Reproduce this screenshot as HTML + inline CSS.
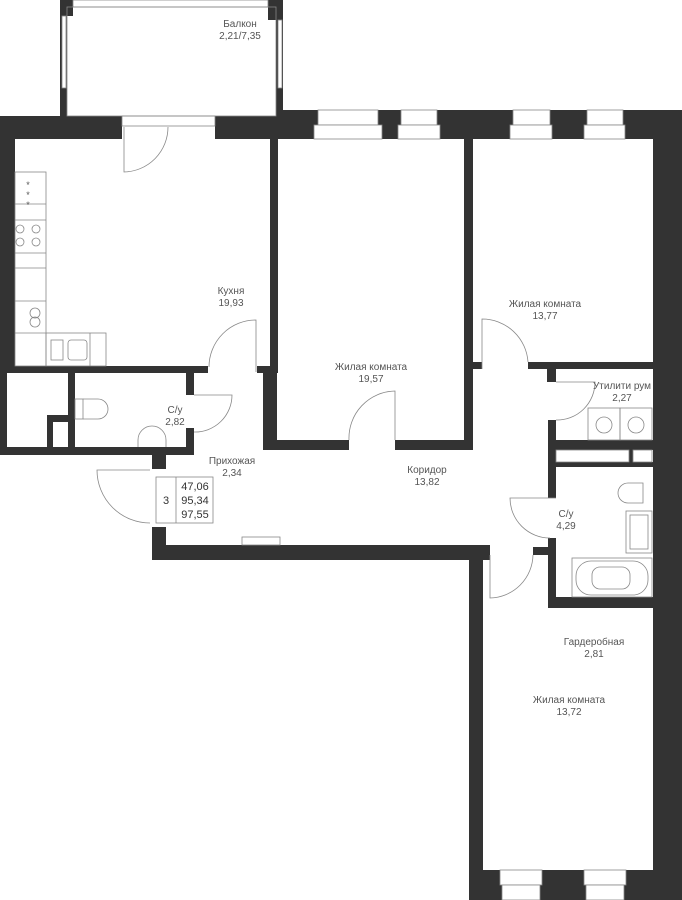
<!DOCTYPE html>
<html><head><meta charset="utf-8"><style>
html,body{margin:0;padding:0;background:#fff}
svg{display:block}
text{font-family:"Liberation Sans",sans-serif;font-size:10px;fill:#555;text-anchor:middle}
</style></head><body>
<svg width="682" height="900" viewBox="0 0 682 900" xmlns="http://www.w3.org/2000/svg">
<g fill="#333">
<rect x="60" y="0" width="7" height="116"/>
<rect x="276" y="0" width="7" height="116"/>
<rect x="60" y="0" width="13" height="16"/>
<rect x="268" y="0" width="15" height="20"/>
<rect x="0" y="116" width="122" height="23"/>
<rect x="215" y="116" width="70" height="23"/>
<rect x="283" y="110" width="399" height="29"/>
<rect x="0" y="116" width="15" height="257"/>
<rect x="653" y="110" width="29" height="790"/>
<rect x="270" y="139" width="8" height="234"/>
<rect x="263" y="366" width="14" height="84"/>
<rect x="257" y="366" width="13" height="7"/>
<rect x="0" y="366" width="208" height="7"/>
<rect x="263" y="440" width="86" height="10"/>
<rect x="395" y="440" width="78" height="10"/>
<rect x="464" y="139" width="9" height="311"/>
<rect x="473" y="362" width="9" height="7"/>
<rect x="528" y="362" width="125" height="7"/>
<rect x="547" y="369" width="9" height="13"/>
<rect x="548" y="420" width="8" height="78"/>
<rect x="548" y="440" width="105" height="10"/>
<rect x="548" y="462" width="105" height="5"/>
<rect x="629" y="450" width="4" height="12"/>
<rect x="548" y="538" width="8" height="70"/>
<rect x="548" y="597" width="105" height="11"/>
<rect x="533" y="547" width="15" height="8"/>
<rect x="152" y="527" width="14" height="33"/>
<rect x="152" y="545" width="338" height="15"/>
<rect x="469" y="545" width="14" height="355"/>
<rect x="469" y="870" width="213" height="30"/>
<rect x="0" y="366" width="7" height="89"/>
<rect x="68" y="373" width="7" height="82"/>
<rect x="47" y="415" width="21" height="7"/>
<rect x="47" y="415" width="6" height="40"/>
<rect x="0" y="447" width="194" height="8"/>
<rect x="186" y="373" width="8" height="22"/>
<rect x="186" y="428" width="8" height="27"/>
<rect x="152" y="455" width="14" height="14"/>
</g>
<g fill="#fff" stroke="#888" stroke-width="0.8">
<rect x="73" y="0" width="195" height="7"/>
<rect x="62" y="16" width="4" height="72"/>
<rect x="278" y="20" width="4" height="68"/>
<rect x="318" y="110" width="60" height="15"/><rect x="314" y="125" width="68" height="14"/>
<rect x="401" y="110" width="36" height="15"/><rect x="398" y="125" width="42" height="14"/>
<rect x="513" y="110" width="37" height="15"/><rect x="510" y="125" width="42" height="14"/>
<rect x="587" y="110" width="36" height="15"/><rect x="584" y="125" width="41" height="14"/>
<rect x="122" y="116" width="93" height="10"/>
<rect x="500" y="870" width="42" height="15"/><rect x="502" y="885" width="38" height="15"/>
<rect x="584" y="870" width="42" height="15"/><rect x="586" y="885" width="38" height="15"/>
<rect x="556" y="450" width="73" height="12"/>
<rect x="633" y="450" width="19" height="12"/>
<rect x="242" y="537" width="38" height="8"/>
</g>
<g stroke="#888" stroke-width="0.8" fill="none">
<rect x="67" y="7" width="209" height="109"/>
<path d="M124 127 V172 A45 45 0 0 0 168 127"/>
<path d="M256 372 V320 A47 47 0 0 0 209 367"/>
<path d="M395 440 V391 A47 47 0 0 0 349 440"/>
<path d="M482 369 V319 A46 46 0 0 1 528 362"/>
<path d="M194 395 H232 A37 37 0 0 1 194 432"/>
<path d="M556 382 H595 A38 38 0 0 1 556 420"/>
<path d="M556 498 H510 A40 40 0 0 0 550 538"/>
<path d="M490 555 V598 A44 44 0 0 0 533 555"/>
<path d="M150 470 H97 A53 53 0 0 0 150 523"/>
<rect x="15" y="172" width="31" height="194"/>
<line x1="15" y1="204" x2="46" y2="204"/><line x1="15" y1="220" x2="46" y2="220"/>
<line x1="15" y1="253" x2="46" y2="253"/><line x1="15" y1="268" x2="46" y2="268"/>
<line x1="15" y1="301" x2="46" y2="301"/><line x1="15" y1="333" x2="46" y2="333"/>
<rect x="46" y="333" width="60" height="33"/><line x1="90" y1="333" x2="90" y2="366"/>
<circle cx="20" cy="229" r="4"/><circle cx="36" cy="229" r="4"/>
<circle cx="20" cy="242" r="4"/><circle cx="36" cy="242" r="4"/>
<circle cx="35" cy="313" r="5"/><circle cx="35" cy="322" r="5"/>
<rect x="51" y="340" width="12" height="20"/><rect x="68" y="340" width="19" height="20" rx="3"/>
<rect x="75" y="399" width="8" height="20"/><path d="M83 399 H98 A10 10 0 0 1 98 419 H83"/>
<path d="M138 447 V440 A14 14 0 0 1 166 440 V447"/>
<rect x="588" y="408" width="32" height="32"/><rect x="620" y="408" width="32" height="32"/>
<circle cx="604" cy="425" r="8"/><circle cx="636" cy="425" r="8"/>
<path d="M643 483 H628 A10 10 0 0 0 628 503 H643 Z"/>
<rect x="626" y="511" width="26" height="42"/><rect x="630" y="515" width="18" height="34"/>
<rect x="572" y="558" width="80" height="39"/>
<rect x="576" y="561" width="72" height="34" rx="15"/><rect x="592" y="567" width="38" height="22" rx="8"/>
<rect x="156" y="477" width="57" height="46"/><line x1="176" y1="477" x2="176" y2="523"/>
</g>
<g>
<text x="240" y="27">Балкон</text><text x="240" y="39">2,21/7,35</text>
<text x="231" y="294">Кухня</text><text x="231" y="306">19,93</text>
<text x="371" y="370">Жилая комната</text><text x="371" y="382">19,57</text>
<text x="545" y="307">Жилая комната</text><text x="545" y="319">13,77</text>
<text x="622" y="389">Утилити рум</text><text x="622" y="401">2,27</text>
<text x="175" y="413">С/у</text><text x="175" y="425">2,82</text>
<text x="232" y="464">Прихожая</text><text x="232" y="476">2,34</text>
<text x="427" y="473">Коридор</text><text x="427" y="485">13,82</text>
<text x="566" y="517">С/у</text><text x="566" y="529">4,29</text>
<text x="594" y="645">Гардеробная</text><text x="594" y="657">2,81</text>
<text x="569" y="703">Жилая комната</text><text x="569" y="715">13,72</text>
<text x="166" y="504" style="font-size:11px;fill:#333">3</text>
<text x="195" y="490" style="font-size:11px;fill:#333">47,06</text>
<text x="195" y="504" style="font-size:11px;fill:#333">95,34</text>
<text x="195" y="518" style="font-size:11px;fill:#333">97,55</text>
<text x="28" y="188" style="font-size:9px">*</text><text x="28" y="198" style="font-size:9px">*</text><text x="28" y="208" style="font-size:9px">*</text>
</g>
</svg>
</body></html>
